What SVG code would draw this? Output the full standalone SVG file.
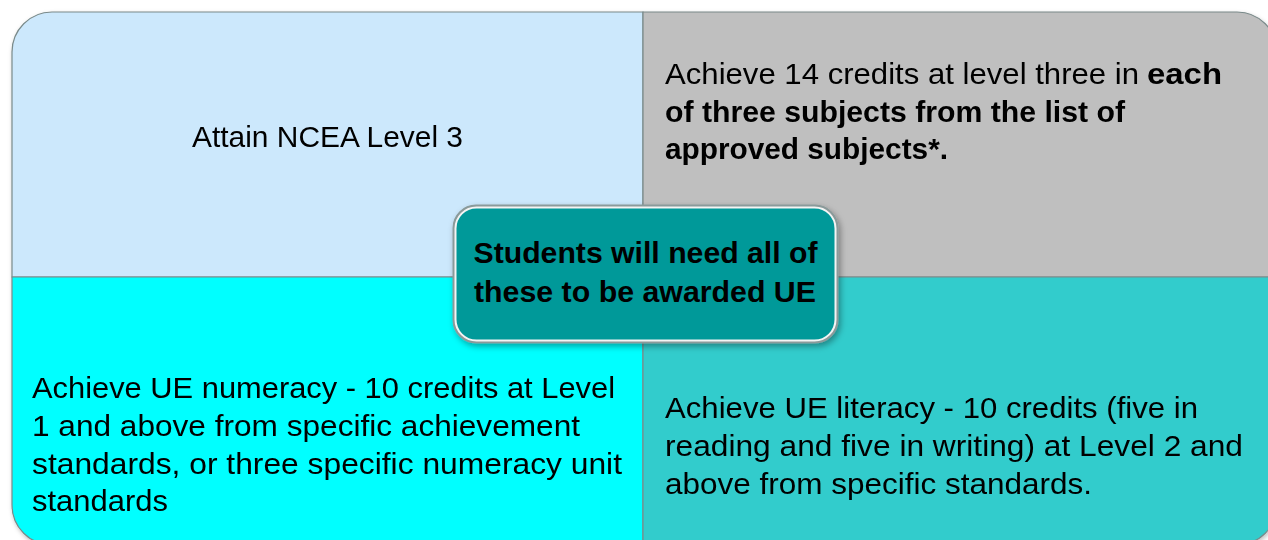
<svg xmlns="http://www.w3.org/2000/svg" width="1268" height="540" viewBox="0 0 1268 540">
  <defs>
    <filter id="shadow" x="-10%" y="-10%" width="130%" height="140%">
      <feDropShadow dx="2" dy="3" stdDeviation="3" flood-color="#000" flood-opacity="0.35"/>
    </filter>
    <filter id="outerShadow" x="-5%" y="-5%" width="110%" height="115%">
      <feDropShadow dx="1" dy="2" stdDeviation="2" flood-color="#000" flood-opacity="0.25"/>
    </filter>
  </defs>
  <style>
    .q { stroke: #7a8a8a; stroke-width: 1.2; }
    .t { font-family: "Liberation Sans", Arial, sans-serif; font-size: 29px; fill: #000; }
    .b { font-weight: bold; }
  </style>
  <rect width="1268" height="540" fill="#ffffff"/>
  <g filter="url(#outerShadow)">
    <g id="node-ncea">
      <path class="q" d="M12,277 V52 A40,40 0 0 1 52,12 H643 V277 Z" fill="#CCE8FC"/>
      <text class="t" x="327.5" y="147" text-anchor="middle" textLength="271" lengthAdjust="spacingAndGlyphs">Attain NCEA Level 3</text>
    </g>
    <g id="node-subjects">
      <path class="q" d="M643,12 H1237 A40,40 0 0 1 1277,52 V277 H643 Z" fill="#BFBFBF"/>
      <text class="t"><tspan x="665" y="84" textLength="474" lengthAdjust="spacingAndGlyphs">Achieve 14 credits at level three in</tspan><tspan class="b" x="1147" y="84" textLength="75" lengthAdjust="spacingAndGlyphs">each</tspan></text>
      <text class="t b" x="665" y="122" textLength="460" lengthAdjust="spacingAndGlyphs">of three subjects from the list of</text>
      <text class="t b" x="665" y="159" textLength="283" lengthAdjust="spacingAndGlyphs">approved subjects*.</text>
    </g>
    <g id="node-numeracy">
      <path class="q" d="M12,277 H643 V545 H52 A40,40 0 0 1 12,505 Z" fill="#00FFFF"/>
      <text class="t" x="32" y="398" textLength="583" lengthAdjust="spacingAndGlyphs">Achieve UE numeracy - 10 credits at Level</text>
      <text class="t" x="32" y="436" textLength="548" lengthAdjust="spacingAndGlyphs">1 and above from specific achievement</text>
      <text class="t" x="32" y="474" textLength="590" lengthAdjust="spacingAndGlyphs">standards, or three specific numeracy unit</text>
      <text class="t" x="32" y="511" textLength="136" lengthAdjust="spacingAndGlyphs">standards</text>
    </g>
    <g id="node-literacy">
      <path class="q" d="M643,277 H1277 V505 A40,40 0 0 1 1237,545 H643 Z" fill="#33CCCC"/>
      <text class="t" x="665" y="418" textLength="533" lengthAdjust="spacingAndGlyphs">Achieve UE literacy - 10 credits (five in</text>
      <text class="t" x="665" y="456" textLength="578" lengthAdjust="spacingAndGlyphs">reading and five in writing) at Level 2 and</text>
      <text class="t" x="665" y="494" textLength="427" lengthAdjust="spacingAndGlyphs">above from specific standards.</text>
    </g>
  </g>
  <g id="node-center">
    <rect x="454" y="206" width="383" height="136" rx="22" fill="#009999" stroke="#8a9a9a" stroke-width="3" filter="url(#shadow)"/>
    <rect x="455.5" y="207.5" width="380" height="133" rx="21" fill="none" stroke="#f4f4f4" stroke-width="2"/>
    <text class="t b" x="645.5" y="263" text-anchor="middle" textLength="344" lengthAdjust="spacingAndGlyphs">Students will need all of</text>
    <text class="t b" x="645" y="302" text-anchor="middle" textLength="342" lengthAdjust="spacingAndGlyphs">these to be awarded UE</text>
  </g>
</svg>
